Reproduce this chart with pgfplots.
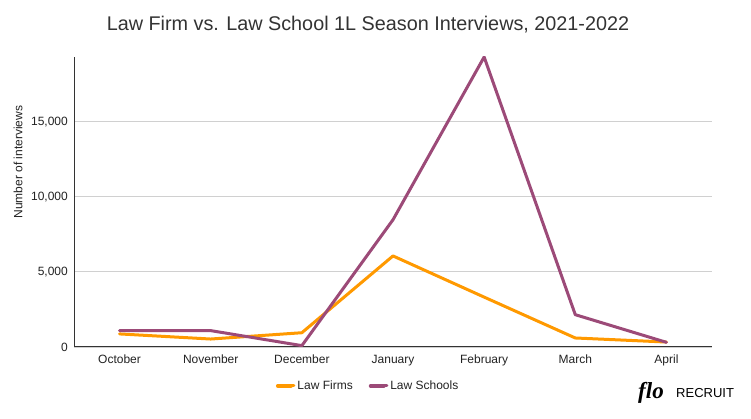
\documentclass[border=0pt]{standalone}
\usepackage{fontspec}
\setmainfont{Liberation Sans}
\newfontfamily\logofont{Liberation Serif}
\usepackage{pgfplots}
\pgfplotsset{compat=1.18}
\definecolor{firm}{HTML}{FF9900}
\definecolor{school}{HTML}{9C4A78}
\definecolor{gridc}{HTML}{D0D0D0}
\definecolor{txt}{HTML}{222222}
\begin{document}
\begin{tikzpicture}[x=1pt,y=1pt]
\useasboundingbox (0,0) rectangle (751,419);
\node[font=\fontsize{19.8}{22}\selectfont, text=black!80] at (368,394) {Law Firm vs. Law School 1L Season Interviews, 2021-2022};
\node[rotate=90, font=\fontsize{12}{14}\selectfont, text=txt] at (18,257) {Number of interviews};
\begin{axis}[
  at={(74pt,72pt)}, anchor=south west,
  width=638pt, height=290pt, scale only axis,
  xmin=-0.5, xmax=6.5, ymin=0, ymax=19300,
  axis x line*=bottom, axis y line*=left,
  axis line style={line width=1pt, black!80},
  xtick={0,...,6},
  xticklabels={October,November,December,January,February,March,April},
  ytick={0,5000,10000,15000},
  major tick length=0pt,
  ymajorgrids, grid style={gridc, line width=0.8pt},
  scaled y ticks=false,
  /pgf/number format/1000 sep={,},
  /pgf/number format/assume math mode=true,
  tick label style={font=\fontsize{12}{14}\selectfont, text=txt},
  yticklabel style={inner sep=0pt, xshift=-6pt},
  xticklabel style={inner sep=0pt, yshift=-8pt},
  legend style={at={(0.461,-0.134)}, anchor=center, draw=none, fill=none,
    font=\fontsize{12}{14}\selectfont, text=txt, legend columns=2,
    /tikz/every even column/.append style={column sep=14pt}},
  legend image code/.code={\draw[line width=4pt] (0pt,0pt) -- (13pt,0pt);\path (0pt,0pt) -- (16pt,0pt);},
  every axis plot/.append style={line join=round, line cap=round},
]
\addplot[firm, line width=3pt] coordinates {(0,870) (1,530) (2,950) (3,6060) (4,3320) (5,600) (6,330)};
\addlegendentry{Law Firms}
\addplot[school, line width=3pt] coordinates {(0,1090) (1,1090) (2,90) (3,8470) (4,19300) (5,2150) (6,310)};
\addlegendentry{Law Schools}
\end{axis}
\node[anchor=base west, inner sep=0pt, font=\logofont\bfseries\itshape\fontsize{23}{24}\selectfont] at (638,20) {flo};
\node[anchor=base west, font=\fontsize{13}{15}\selectfont, inner sep=0pt] at (676,21) {RECRUIT};
\end{tikzpicture}
\end{document}
